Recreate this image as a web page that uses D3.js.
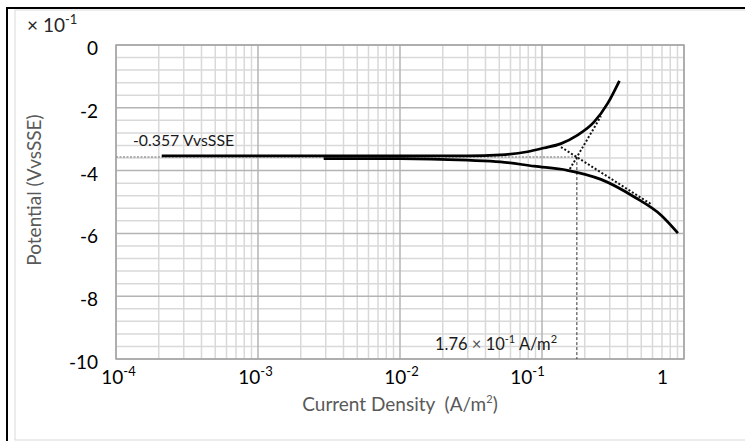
<!DOCTYPE html>
<html>
<head>
<meta charset="utf-8">
<script src="https://cdn.jsdelivr.net/npm/d3@7"></script>
<style>
  body { margin: 0; background: #fff; }
  svg { display: block; }
  text { font-family: Lato, "Open Sans", sans-serif; }
</style>
</head>
<body>
<svg id="chart" width="745" height="441"></svg>
<script>
// Polarization curves. Current density in A/m², potential in units of 0.1 V vs SSE.
const anodicCurrent   = [2.1e-4, 1e-3, 1e-2, 0.030, 0.051, 0.079, 0.103, 0.136, 0.178, 0.233, 0.290, 0.351];
const anodicPotential = [-3.53, -3.53, -3.53, -3.53, -3.50, -3.40, -3.28, -3.14, -2.87, -2.45, -1.86, -1.14];

const cathodicCurrent   = [2.9e-3, 1e-2, 0.030, 0.051, 0.088, 0.151, 0.260, 0.447, 0.690, 0.906];
const cathodicPotential = [-3.62, -3.62, -3.67, -3.72, -3.86, -3.99, -4.28, -4.84, -5.42, -5.99];

// Tafel extrapolations
const anodicTafelCurrent     = [0.157, 0.260];
const anodicTafelPotential   = [-3.95, -2.27];
const cathodicTafelCurrent   = [0.136, 0.587];
const cathodicTafelPotential = [-3.25, -5.07];

// Corrosion point
const corrCurrent = 0.176;   // A/m²
const corrPotential = -3.57; // ×10^-1 V

// Axis ticks
const xDecades = [1e-4, 1e-3, 1e-2, 1e-1, 1];
const xDecadeLabels = [["10", "-4"], ["10", "-3"], ["10", "-2"], ["10", "-1"], ["1", ""]];
const yTicks = [0, -2, -4, -6, -8, -10];

// ---- layout ----
const svg = d3.select("#chart");
const plot = { left: 116, right: 684, top: 45, bottom: 359 };
const xLabelNudge = [2, -3, 1, -15, -22];

const x = d3.scaleLog().domain([1e-4, 1]).range([plot.left, plot.right]);
const y = d3.scaleLinear().domain([-10, 0]).range([plot.bottom, plot.top]);

// chart frame
svg.append("rect").attr("x", 15).attr("y", 10).attr("width", 800).attr("height", 430)
  .attr("fill", "#fff").attr("stroke", "#d9d9d9").attr("stroke-width", 1);
svg.append("rect").attr("x", 7).attr("y", 8).attr("width", 800).attr("height", 500)
  .attr("fill", "none").attr("stroke", "#000").attr("stroke-width", 2);

// grid
const minorX = [];
xDecades.slice(0, -1).forEach(d => { for (let k = 2; k <= 9; k++) minorX.push(d * k); });
const minorY = d3.range(0, 26).map(i => -10 + i * 0.4).filter(v => Math.abs(v - Math.round(v / 2) * 2) > 1e-6);

const grid = svg.append("g");
grid.selectAll(".vminor").data(minorX).join("line")
  .attr("x1", d => x(d)).attr("x2", d => x(d)).attr("y1", plot.top).attr("y2", plot.bottom)
  .attr("stroke", "#d9d9d9").attr("stroke-width", 1.5);
grid.selectAll(".hminor").data(minorY).join("line")
  .attr("x1", plot.left).attr("x2", plot.right).attr("y1", d => y(d)).attr("y2", d => y(d))
  .attr("stroke", "#d9d9d9").attr("stroke-width", 1.5);
grid.selectAll(".vmajor").data(xDecades).join("line")
  .attr("x1", d => x(d)).attr("x2", d => x(d)).attr("y1", plot.top).attr("y2", plot.bottom)
  .attr("stroke", "#b4b4b4").attr("stroke-width", 1.5);
grid.selectAll(".hmajor").data(yTicks).join("line")
  .attr("x1", plot.left).attr("x2", plot.right).attr("y1", d => y(d)).attr("y2", d => y(d))
  .attr("stroke", "#b4b4b4").attr("stroke-width", 1.5);
svg.append("rect").attr("x", plot.left).attr("y", plot.top)
  .attr("width", plot.right - plot.left).attr("height", plot.bottom - plot.top)
  .attr("fill", "none").attr("stroke", "#a6a6a6").attr("stroke-width", 1.5);

// axes (labels only, no ticks)
const xAxis = svg.append("g").attr("transform", `translate(0,${plot.bottom})`)
  .call(d3.axisBottom(x).tickValues(xDecades).tickSize(0).tickFormat(""));
xAxis.select(".domain").remove();
xAxis.selectAll(".tick").each(function (d, i) {
  const t = d3.select(this).append("text")
    .attr("x", xLabelNudge[i]).attr("y", 25)
    .attr("fill", "#000").attr("font-size", 19).attr("text-anchor", "middle")
    .attr("font-family", "Lato, sans-serif");
  t.append("tspan").text(xDecadeLabels[i][0]);
  if (xDecadeLabels[i][1]) t.append("tspan").attr("dy", -8).attr("font-size", 13).text(xDecadeLabels[i][1]);
});

const yAxis = svg.append("g").attr("transform", `translate(${plot.left},0)`)
  .call(d3.axisLeft(y).tickValues(yTicks).tickSize(0).tickPadding(18).tickFormat(d => String(d)));
yAxis.select(".domain").remove();
yAxis.selectAll(".tick text").attr("fill", "#000").attr("font-size", 19)
  .attr("font-family", "Lato, sans-serif").attr("dy", "0.5em");

// ×10^-1 scale note
const unit = svg.append("text").attr("x", 27).attr("y", 32).attr("font-size", 19).attr("fill", "#262626");
unit.append("tspan").text("× 10");
unit.append("tspan").attr("dy", -8).attr("font-size", 13).text("-1");

// axis titles
svg.append("text").attr("transform", "translate(41,190) rotate(-90)")
  .attr("text-anchor", "middle").attr("font-size", 19).attr("fill", "#595959")
  .text("Potential (VvsSSE)");
const xt = svg.append("text").attr("x", 400).attr("y", 411)
  .attr("text-anchor", "middle").attr("font-size", 19).attr("fill", "#595959");
xt.append("tspan").text("Current Density\u00a0 (A/m");
xt.append("tspan").attr("dy", -8).attr("font-size", 11).text("2");
xt.append("tspan").attr("dy", 8).text(")");

// reference lines at the corrosion point
svg.append("line")
  .attr("x1", x(1e-4)).attr("x2", x(corrCurrent))
  .attr("y1", y(corrPotential)).attr("y2", y(corrPotential))
  .attr("stroke", "#9a9a9a").attr("stroke-width", 1.5).attr("stroke-dasharray", "2,1.5");
svg.append("line")
  .attr("x1", x(corrCurrent)).attr("x2", x(corrCurrent))
  .attr("y1", y(corrPotential)).attr("y2", y(-10))
  .attr("stroke", "#333").attr("stroke-width", 1).attr("stroke-dasharray", "3,2");

// curves
const line = d3.line().x(d => x(d[0])).y(d => y(d[1])).curve(d3.curveMonotoneX);
const zip = (a, b) => a.map((v, i) => [v, b[i]]);

svg.append("path").datum(zip(cathodicCurrent, cathodicPotential))
  .attr("d", line).attr("fill", "none").attr("stroke", "#000").attr("stroke-width", 2.75);
svg.append("path").datum(zip(anodicCurrent, anodicPotential))
  .attr("d", line).attr("fill", "none").attr("stroke", "#000").attr("stroke-width", 2.75);

const straight = d3.line().x(d => x(d[0])).y(d => y(d[1]));
[[anodicTafelCurrent, anodicTafelPotential], [cathodicTafelCurrent, cathodicTafelPotential]].forEach(([c, p]) => {
  svg.append("path").datum(zip(c, p)).attr("d", straight)
    .attr("fill", "none").attr("stroke", "#111").attr("stroke-width", 2).attr("stroke-dasharray", "2,2");
});

// annotations
svg.append("text").attr("x", 133).attr("y", 146).attr("font-size", 15.8).attr("fill", "#1a1a1a")
  .text(`${(corrPotential / 10).toFixed(3)} VvsSSE`);
const ann = svg.append("text").attr("x", 435).attr("y", 350).attr("font-size", 16.5).attr("fill", "#1a1a1a");
ann.append("tspan").text("1.76 ");
ann.append("tspan").attr("fill", "#555").text("×");
ann.append("tspan").text(" 10");
ann.append("tspan").attr("dy", -7).attr("font-size", 11).text("-1");
ann.append("tspan").attr("dy", 7).text(" A/m");
ann.append("tspan").attr("dy", -7).attr("font-size", 11).text("2");
</script>
</body>
</html>
